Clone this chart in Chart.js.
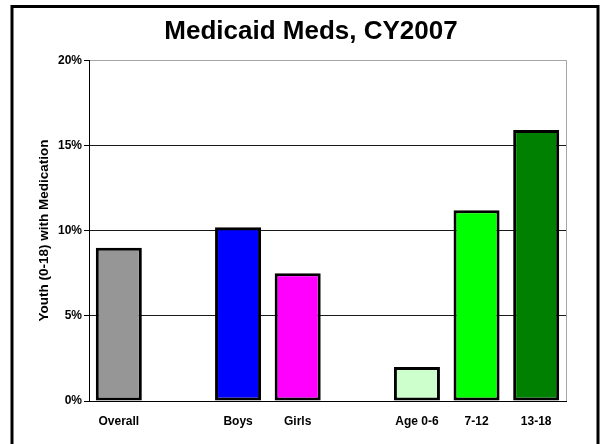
<!DOCTYPE html>
<html>
<head>
<meta charset="utf-8">
<script src="https://cdn.jsdelivr.net/npm/chart.js@4"></script>
<style>
    html, body { margin: 0; padding: 0; background: #fff; }
    #wrap { width: 600px; height: 444px; }
</style>
</head>
<body>
<div id="wrap"><canvas id="medsChart" width="600" height="444"></canvas></div>
<script>
// Chart data
const categories = ['Overall', '', 'Boys', 'Girls', '', 'Age 0-6', '7-12', '13-18'];
const youthPercent = [9.0, null, 10.2, 7.5, null, 2.0, 11.2, 15.9];
const barColors = ['#969696', '#ffffff', '#0000ff', '#ff00ff', '#ffffff', '#ccffcc', '#00ff00', '#008000'];
const tickValues = [0, 5, 10, 15, 20];

const FONT = 'Arial, "Liberation Sans", sans-serif';

// outer frame + grey right edge of the plot area
const framePlugin = {
    id: 'frame',
    afterDraw(chart) {
        const ctx = chart.ctx;
        const area = chart.chartArea;
        ctx.save();
        ctx.strokeStyle = '#a6a6a6';
        ctx.lineWidth = 1;
        ctx.beginPath();
        ctx.moveTo(Math.round(area.right) + 0.5, area.top);
        ctx.lineTo(Math.round(area.right) + 0.5, area.bottom);
        ctx.stroke();
        ctx.strokeStyle = '#000';
        ctx.lineWidth = 3;
        ctx.strokeRect(12, 6.5, 586, 480);
        ctx.restore();
    }
};

document.addEventListener('DOMContentLoaded', function() {
    const ctx = document.getElementById('medsChart').getContext('2d');
    new Chart(ctx, {
        type: 'bar',
        data: {
            labels: categories,
            datasets: [{
                data: youthPercent,
                backgroundColor: barColors,
                borderColor: '#000',
                borderWidth: 3,
                borderSkipped: false,
                barPercentage: 0.772,
                categoryPercentage: 1.0
            }]
        },
        options: {
            responsive: false,
            animation: false,
            layout: {
                padding: { left: 56, right: 34, top: 0, bottom: 0 }
            },
            plugins: {
                legend: { display: false },
                tooltip: { enabled: false },
                title: {
                    display: true,
                    text: 'Medicaid Meds, CY2007',
                    color: '#000',
                    font: { family: FONT, size: 26, weight: 'bold', lineHeight: 1.2 },
                    padding: { top: 16, bottom: 13 }
                }
            },
            scales: {
                x: {
                    grid: { display: false, drawTicks: false },
                    border: { display: true, color: '#000', width: 1 },
                    ticks: {
                        color: '#000',
                        padding: 13,
                        maxRotation: 0,
                        autoSkip: false,
                        font: { family: FONT, size: 12, weight: 'bold' }
                    },
                    afterFit(scale) { scale.height = 43; }
                },
                y: {
                    min: 0,
                    max: 20,
                    afterBuildTicks(scale) {
                        scale.ticks = tickValues.map(v => ({ value: v }));
                    },
                    grid: {
                        color: function(c) {
                            if (c.tick && c.tick.value === 20) return '#a6a6a6';
                            return '#1a1a1a';
                        },
                        tickColor: '#000',
                        tickLength: 5,
                        drawTicks: true
                    },
                    border: { display: true, color: '#000', width: 1 },
                    ticks: {
                        color: '#000',
                        padding: 2,
                        font: { family: FONT, size: 12, weight: 'bold' },
                        callback: function(v) { return v + '%'; }
                    },
                    title: {
                        display: true,
                        text: 'Youth (0-18) with Medication',
                        color: '#000',
                        font: { family: FONT, size: 13.5, weight: 'bold' },
                        padding: { top: -20, bottom: 0 }
                    },
                    afterFit(scale) { scale.width = 33; }
                }
            }
        },
        plugins: [framePlugin]
    });
});
</script>
</body>
</html>
